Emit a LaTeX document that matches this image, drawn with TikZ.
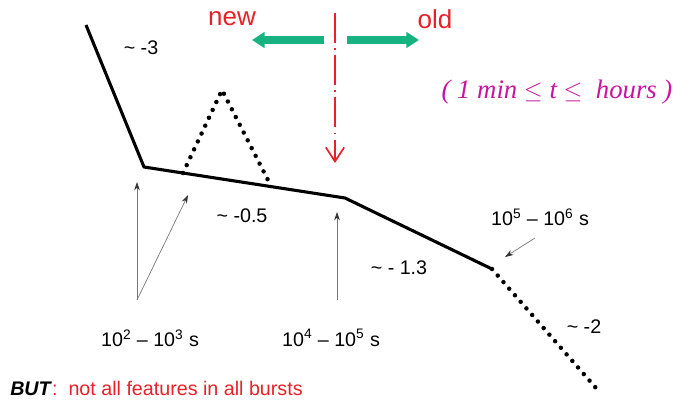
\documentclass[tikz,border=0pt]{standalone}
\usepackage{fontspec}
\setmainfont{Liberation Sans}
\newfontfamily\timesit{Liberation Serif}
\usepackage{tikz}
\usetikzlibrary{arrows.meta,positioning,calc}
\usepackage{xcolor}
\definecolor{flarered}{RGB}{232,32,40}
\definecolor{flaregreen}{RGB}{22,178,128}
\definecolor{flarepink}{RGB}{200,20,160}
\definecolor{flaregray}{RGB}{120,120,120}

\begin{document}
\begin{tikzpicture}[
    x=0.025cm,y=-0.025cm,
    curve/.style={line width=2.2pt,line join=round},
    dotcurve/.style={line width=3.2pt,line cap=round,dash pattern=on 0pt off 6.2pt},
    pointer/.style={draw=flaregray,line width=0.5pt,-{Stealth[length=6pt,width=4pt,black!80]}},
    lbl/.style={font=\fontsize{14}{16}\selectfont,inner sep=0pt},
    >=Stealth
]
\useasboundingbox (0,0) rectangle (678,402);
% light curve
\coordinate (p0) at (86,25);
\coordinate (p1) at (144,167);
\coordinate (p2) at (345,198);
\coordinate (p3) at (492,269);
\coordinate (p4) at (596,388);
\coordinate (t1) at (183,173);
\coordinate (t2) at (222,90);
\coordinate (t3) at (270,184);
\draw[curve] (p0) -- (p1) -- (p2) -- (p3);
\draw[dotcurve] (p3) -- (p4);
\draw[dotcurve] (t1) -- (t2) -- (t3);
% slopes
\node[lbl] (s3) at (141,48) {\textasciitilde\ -3};
\node[lbl] (s05) at (242,216) {\textasciitilde\ -0.5};
\node[lbl] (s13) at (399,268) {\textasciitilde\ - 1.3};
\node[lbl] (s2) at (584,327) {\textasciitilde\ -2};
% break times
\node[lbl] (b23) at (150,338) {10\textsuperscript{2} -- 10\textsuperscript{3} s};
\node[lbl] (b45) at (331,338) {10\textsuperscript{4} -- 10\textsuperscript{5} s};
\node[lbl] (b56) at (540,217) {10\textsuperscript{5} -- 10\textsuperscript{6} s};
\coordinate (fork) at (137,300);
\coordinate (tipA) at (137,182);
\coordinate (tipB) at (188,195);
\coordinate (base45) at (337,300);
\coordinate (tip45) at (337,212);
\coordinate (from56) at (535,238);
\coordinate (tip56) at (505,257);
\draw[pointer] (fork) -- (tipA);
\draw[pointer] (fork) -- (tipB);
\draw[pointer] (base45) -- (tip45);
\draw[pointer] (from56) -- (tip56);
% new / old
\node[font=\fontsize{18.5}{20}\selectfont,text=flarered] (new) at (232,19) {new};
\node[font=\fontsize{18.5}{20}\selectfont,text=flarered] (old) at (435,19) {old};
\coordinate (rtop) at (335,13);
\coordinate (rbot) at (335,163);
\draw[flarered,line width=1.2pt,dash pattern=on 21pt off 4pt on 1pt off 4pt,
    -{Straight Barb[length=10pt,width=13pt,line width=1.2pt]}] (rtop) -- (rbot);
\coordinate (gl) at (324,40);
\coordinate (gnew) at (252,40);
\coordinate (gr) at (347,40);
\coordinate (gold) at (419,40);
\draw[flaregreen,line width=5pt,-{Triangle[length=9pt,width=11pt]}] (gl) -- (gnew);
\draw[flaregreen,line width=5pt,-{Triangle[length=9pt,width=11pt]}] (gr) -- (gold);
\node[font=\timesit\itshape\fontsize{19}{21}\selectfont,text=flarepink] (range) at (557,92)
    {( 1 \textit{min} $\leq$ \textit{t} $\leq$\ \ \textit{hours} )};
% note
\node[lbl,anchor=west,text=flarered] (note) at (10,388)
    {\textcolor{black}{\textbf{\textit{BUT}}}:\ \ not all features in all bursts};
\end{tikzpicture}
\end{document}
